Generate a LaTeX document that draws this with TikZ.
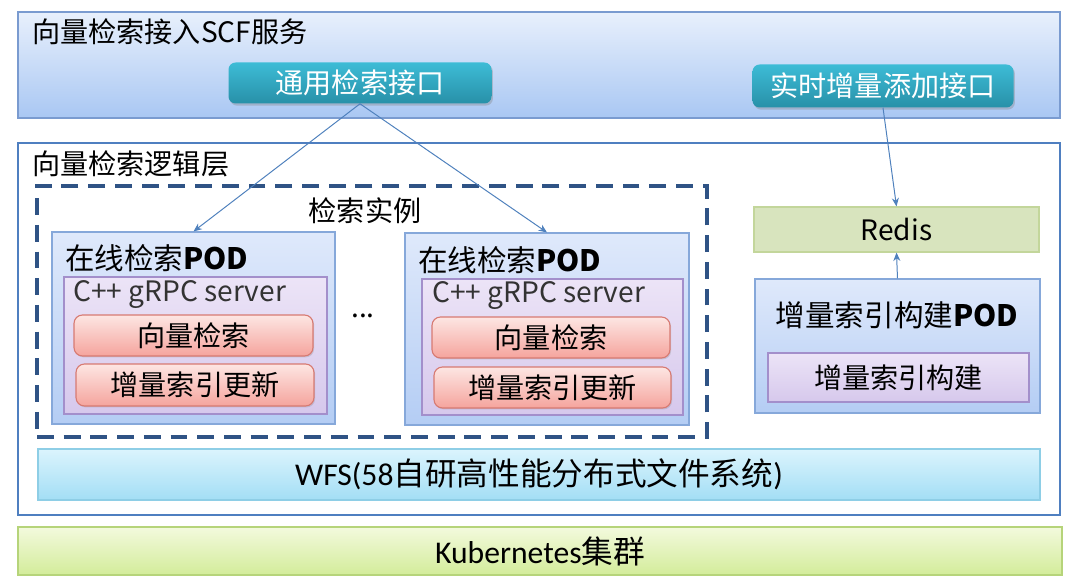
\documentclass[tikz,border=0pt]{standalone}
\usepackage{fontspec}
\setmainfont{Noto Sans CJK SC}
\newfontfamily\narrowlat{Carlito}
\usetikzlibrary{arrows.meta,shadows}

\definecolor{framebd}{HTML}{7A9BD0}
\definecolor{frametop}{HTML}{E8F0FC}
\definecolor{framebot}{HTML}{A9C7F3}
\definecolor{logicbd}{HTML}{4F7FC0}
\definecolor{dashbd}{HTML}{2F5385}
\definecolor{btntop}{HTML}{3DBCD6}
\definecolor{btnbot}{HTML}{2890A8}
\definecolor{podbd}{HTML}{86A8DA}
\definecolor{podtop}{HTML}{DFE9FB}
\definecolor{podbot}{HTML}{B4CDF4}
\definecolor{srvbd}{HTML}{A38FCB}
\definecolor{srvtop}{HTML}{ECE4F7}
\definecolor{srvbot}{HTML}{D6C8EC}
\definecolor{redbd}{HTML}{D77A72}
\definecolor{redtop}{HTML}{FDE6E3}
\definecolor{redbot}{HTML}{F5A49D}
\definecolor{redisbd}{HTML}{C3D69B}
\definecolor{redisfill}{HTML}{D8E4BE}
\definecolor{wfsbd}{HTML}{8ECEE6}
\definecolor{wfstop}{HTML}{DBF4FD}
\definecolor{wfsbot}{HTML}{A3DEF5}
\definecolor{k8sbd}{HTML}{B6D47A}
\definecolor{k8stop}{HTML}{F3FADD}
\definecolor{k8sbot}{HTML}{D3EC9A}
\definecolor{arrowc}{HTML}{4F81BD}

% one pixel of the layout
\newdimen\pxl
\pxl=0.025cm

\tikzset{
  txt/.style={font=\fontsize{20}{23}\selectfont, inner sep=0pt},
  podtxt/.style={font=\fontsize{21}{24}\selectfont, inner sep=0pt},
  box/.style 2 args={minimum width=#1\pxl, minimum height=#2\pxl},
  layer/.style={draw=framebd, line width=0.8pt, top color=frametop, bottom color=framebot, inner sep=0pt,
    drop shadow={shadow xshift=1pt, shadow yshift=-1pt, opacity=0.2}},
  button/.style={txt, text=white, rounded corners=5pt, top color=btntop, bottom color=btnbot,
    drop shadow={shadow xshift=1pt, shadow yshift=-1.5pt, opacity=0.35}},
  podbox/.style={draw=podbd, line width=0.8pt, top color=podtop, bottom color=podbot,
    drop shadow={shadow xshift=1pt, shadow yshift=-1pt, opacity=0.25}},
  srvbox/.style={draw=srvbd, line width=0.8pt, top color=srvtop, bottom color=srvbot},
  funcbox/.style={txt, draw=redbd, line width=0.8pt, rounded corners=6pt,
    top color=redtop, bottom color=redbot,
    drop shadow={shadow xshift=0.8pt, shadow yshift=-1pt, opacity=0.25}},
  barbox/.style={font=\fontsize{22.5}{25}\selectfont, inner sep=0pt, line width=0.8pt,
    drop shadow={shadow xshift=0.8pt, shadow yshift=-1pt, opacity=0.2}},
  flow/.style={draw=arrowc, line width=0.7pt, -{Stealth[length=6pt,width=5pt]}}
}

\begin{document}
\begin{tikzpicture}[x=0.025cm, y=-0.025cm]
        \useasboundingbox (0,0) rectangle (1080,584);

        % SCF service layer
        \node[layer, box={1042}{106}] (scf) at (539,65) {};
        \node[txt, anchor=west] (scftitle) at (32,32) {向量检索接入SCF服务};
        \node[button, box={263}{41}] (search) at (360,83) {通用检索接口};
        \node[button, box={261}{43}] (addapi) at (883,86) {实时增量添加接口};

        % logic layer
        \node[draw=logicbd, line width=1.8pt, fill=white, box={1042}{372}] (logic) at (539,329) {};
        \node[txt, anchor=west] (logictitle) at (32,164) {向量检索逻辑层};
        \node[draw=dashbd, line width=2.2pt, dash pattern=on 12pt off 7pt, box={670}{251}] (inst) at (372,311.5) {};
        \node[txt] (insttitle) at (365,211) {检索实例};

        % online search pods
        \node[podbox, box={283}{192}] (pod1) at (193.5,328) {};
        \node[podtxt, anchor=west] (pod1title) at (65,258) {在线检索\textbf{POD}};
        \node[srvbox, box={263}{137}] (srv1) at (195.5,345.5) {};
        \node[txt, anchor=west, text=black!80] (srv1title) at (73,295) {C++ gRPC server};
        \node[funcbox, box={239}{41}] (vs1) at (193.5,335.5) {向量检索};
        \node[funcbox, box={238}{42}] (up1) at (195,385) {增量索引更新};

        \node[txt] (dots) at (363,316) {...};

        \node[podbox, box={284}{192}] (pod2) at (547,329) {};
        \node[podtxt, anchor=west] (pod2title) at (418,260) {在线检索\textbf{POD}};
        \node[srvbox, box={261}{136}] (srv2) at (552.5,347) {};
        \node[txt, anchor=west, text=black!80] (srv2title) at (432,296) {C++ gRPC server};
        \node[funcbox, box={238}{41}] (vs2) at (551,337.5) {向量检索};
        \node[funcbox, box={237}{41}] (up2) at (552.5,387.5) {增量索引更新};

        % redis and index building pod
        \node[txt, draw=redisbd, line width=0.8pt, fill=redisfill, box={285}{45},
          drop shadow={shadow xshift=0.8pt, shadow yshift=-1pt, opacity=0.2}] (redis) at (896.5,229.5) {Redis};
        \node[podbox, box={285}{134}] (bpod) at (897.5,346) {};
        \node[podtxt] (bpodtitle) at (897,315) {增量索引构建\textbf{POD}};
        \node[txt, draw=srvbd, line width=0.8pt, top color=srvtop, bottom color=srvbot,
          box={261}{49}] (build) at (898.5,377.5) {增量索引构建};

        % storage and cluster
        \node[barbox, draw=wfsbd, top color=wfstop, bottom color=wfsbot, box={1002}{51}] (wfs) at (539,474.5)
          {{\narrowlat WFS(58}自研高性能分布式文件系统{\narrowlat )}};
        \node[barbox, draw=k8sbd, top color=k8stop, bottom color=k8sbot, box={1044}{48}] (k8s) at (540,551)
          {{\narrowlat Kubernetes}集群};

        % request flow
        \draw[flow] (search.south) -- (pod1.north);
        \draw[flow] (search.south) -- (pod2.north);
        \draw[flow] (addapi.south) -- (redis.north);
        \draw[flow] (bpod.north) -- (redis.south);
\end{tikzpicture}
\end{document}
